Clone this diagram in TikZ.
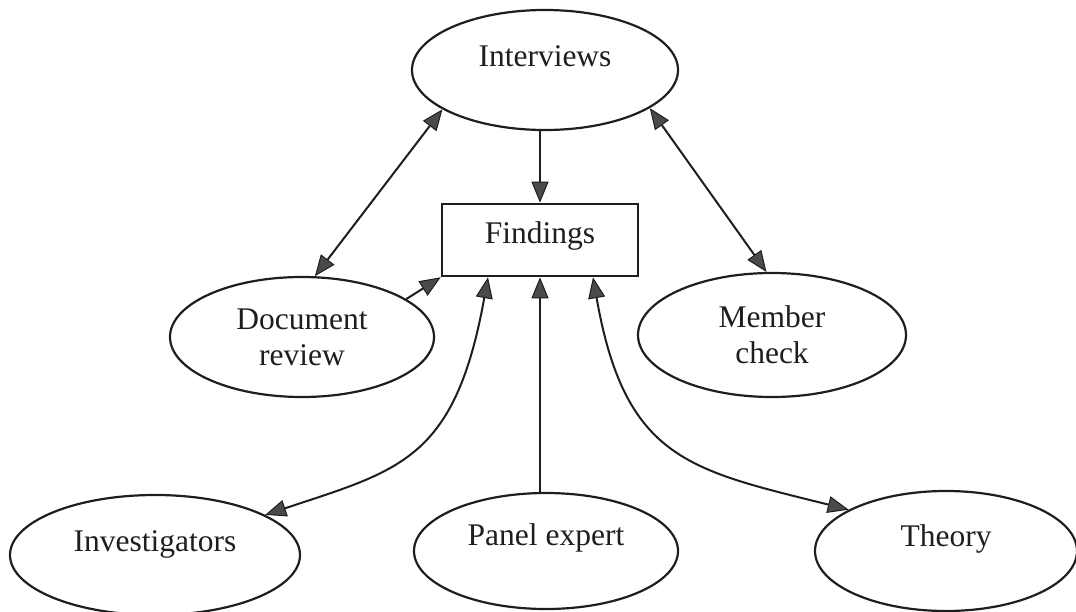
\documentclass[tikz,border=0pt]{standalone}
\usepackage{fontspec}
\setmainfont{Liberation Serif}
\usetikzlibrary{shapes.geometric,arrows.meta}
\definecolor{ink}{HTML}{1E1E1E}
\definecolor{headfill}{HTML}{4A4A4A}
\begin{document}
\begin{tikzpicture}[x=1pt,y=-1pt,
  every node/.style={text=ink, font=\fontsize{31.5}{36}\selectfont},
  ell/.style={ellipse, draw=ink, line width=2.2pt, inner sep=0pt, align=center},
  box/.style={rectangle, draw=ink, line width=2.6pt, inner sep=0pt},
  lift/.style={text depth=#1},
  conn/.style={draw=ink, line width=2pt},
  >={Triangle[length=21pt,width=17pt,fill=headfill,line width=1pt]}
]
\useasboundingbox (0,0) rectangle (1076,612);
\clip (0,0) rectangle (1076,612);

% sources of evidence
\node[ell, minimum width=266pt, minimum height=120pt, lift=28pt] (intv) at (545,70) {Interviews};
\node[box, minimum width=196pt, minimum height=72pt, lift=15pt] (find) at (540,240) {Findings};
\node[ell, minimum width=264pt, minimum height=120pt] (doc) at (302,337) {Document\\review};
\node[ell, minimum width=268pt, minimum height=124pt] (mem) at (772,335) {Member\\check};
\node[ell, minimum width=290pt, minimum height=120pt, lift=28pt] (inv) at (155,555) {Investigators};
\node[ell, minimum width=264pt, minimum height=116pt, lift=32pt] (pan) at (546,551) {Panel expert};
\node[ell, minimum width=262pt, minimum height=120pt, lift=30pt] (theo) at (946,551) {Theory};

% links
\draw[conn, <->] (intv.201) -- (doc.78);
\draw[conn, <->] (intv.340) -- (mem.95);
\draw[conn, ->] (intv.south -| find.north) -- (find.north);
\draw[conn, ->] (doc.20) -- (find.south west);
\draw[conn, <->] ([xshift=-52pt]find.south) .. controls (455,460) and (400,470) .. (inv.20);
\draw[conn, ->] (pan.north -| find.south) -- (find.south);
\draw[conn, <->] ([xshift=53pt]find.south) .. controls (625,460) and (690,470) .. (theo.157);
\end{tikzpicture}
\end{document}
